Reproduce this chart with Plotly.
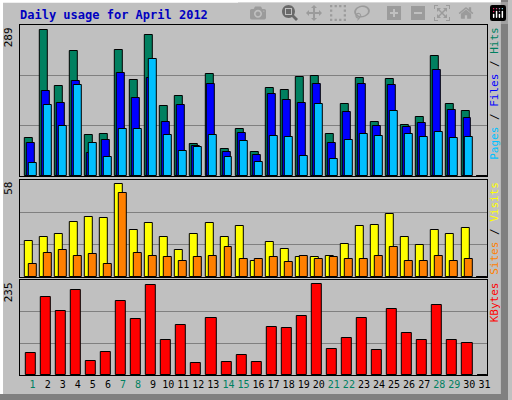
import plotly.graph_objects as go

days = list(range(1, 32))
hits = [73, 280, 172, 240, 79, 80, 242, 183, 269, 134, 153, 61, 196, 52, 90, 46,
        168, 164, 189, 191, 80, 138, 187, 103, 185, 98, 113, 229, 138, 124, 0]
files = [63, 163, 139, 181, 44, 69, 198, 149, 187, 103, 136, 58, 176, 46, 82, 41,
         157, 145, 139, 177, 63, 122, 176, 96, 174, 94, 101, 202, 126, 111, 0]
pages = [25, 136, 96, 174, 63, 37, 90, 90, 223, 79, 48, 56, 79, 37, 67, 27,
         77, 75, 39, 138, 33, 69, 80, 77, 124, 80, 75, 84, 73, 75, 0]
visits = [21.3, 23.9, 26, 32.7, 35.7, 35.1, 55.6, 27.9, 32.1, 23.9, 15.9, 26, 32.1, 23.9, 30.3, 9.8,
          20.7, 16.5, 12.2, 12.2, 12.8, 19.5, 30.3, 30.9, 37.5, 23.9, 18.9, 27.9, 26, 29.1, 0]
sites = [8, 14.6, 15.9, 12.8, 14, 8, 50.2, 14.6, 12.8, 12.2, 9.8, 12.2, 12.8, 17.7, 11, 11,
         12.2, 9.2, 12.8, 11, 12.2, 11, 11, 12.8, 17.7, 9.8, 9.8, 12.8, 9.8, 11, 0]
kbytes = [54, 193, 158, 210, 35, 57, 183, 139, 223, 87, 124, 30, 141, 32, 49, 32,
          119, 116, 146, 225, 64, 92, 141, 62, 163, 104, 87, 173, 87, 79, 0]
weekend = [1, 7, 8, 14, 15, 21, 22, 28, 29]
max_hits, max_visits, max_kb = 289, 58, 235

GREEN, BLUE, CYAN = "#008060", "#0000ff", "#00c0ff"
YEL, ORA, RED = "#ffff00", "#ff8000", "#ff0000"
BG = "#c0c0c0"
FONT = "DejaVu Sans Mono"

def bar(y, color, off, w, xa, ya):
    return go.Bar(x=days, y=y, offset=off, width=w, marker=dict(color=color, line=dict(color="black", width=1)),
                  xaxis=xa, yaxis=ya, showlegend=False, hoverinfo="skip")

fig = go.Figure()
fig.add_trace(bar(hits, GREEN, -0.53, 0.53, "x", "y"))
fig.add_trace(bar(files, BLUE, -0.4, 0.53, "x", "y"))
fig.add_trace(bar(pages, CYAN, -0.27, 0.53, "x", "y"))
fig.add_trace(bar(visits, YEL, -0.53, 0.53, "x2", "y2"))
fig.add_trace(bar(sites, ORA, -0.27, 0.53, "x2", "y2"))
fig.add_trace(bar(kbytes, RED, -0.47, 0.67, "x3", "y3"))

ticktext = [f'<span style="color:{GREEN if d in weekend else "black"}">{d}</span>' for d in days]
xcommon = dict(range=[0.15, 31.15], domain=[0.039, 0.958], showline=True, linecolor="black",
               mirror=True, showgrid=False, zeroline=False, fixedrange=True)
def ycommon(mx, dom):
    return dict(range=[0, mx], domain=dom, tickvals=[mx / 3, 2 * mx / 3], showticklabels=False,
                gridcolor="#808080", gridwidth=1, showline=True, linecolor="black", mirror=True,
                zeroline=False, ticks="")

fig.update_layout(
    width=512, height=400, margin=dict(l=0, r=0, t=0, b=0),
    paper_bgcolor=BG, plot_bgcolor=BG, barmode="overlay", bargap=0,
    font=dict(family=FONT, size=11, color="black"),
    xaxis=dict(**xcommon, showticklabels=False, anchor="y"),
    xaxis2=dict(**xcommon, showticklabels=False, anchor="y2"),
    xaxis3=dict(**xcommon, anchor="y3", tickvals=days, ticktext=ticktext, ticks="", tickangle=0,
                tickfont=dict(family=FONT, size=10)),
    yaxis=ycommon(max_hits, [0.56, 0.9375]),
    yaxis2=ycommon(max_visits, [0.3075, 0.55]),
    yaxis3=ycommon(max_kb, [0.0625, 0.3]),
)

ann = [
    dict(text="<b>Daily usage for April 2012</b>", x=0.035, y=0.985, xanchor="left", yanchor="top",
         font=dict(color="#0000c0", size=12, family=FONT)),
    dict(text=str(max_hits), x=0.033, y=0.9375, xanchor="right", yanchor="top", textangle=-90),
    dict(text=str(max_visits), x=0.033, y=0.55, xanchor="right", yanchor="top", textangle=-90),
    dict(text=str(max_kb), x=0.033, y=0.3, xanchor="right", yanchor="top", textangle=-90),
    dict(text=f'<span style="color:{CYAN}">Pages</span> / <span style="color:{BLUE}">Files</span> / <span style="color:{GREEN}">Hits</span>',
         x=0.973, y=0.9375, xanchor="center", yanchor="top", textangle=-90),
    dict(text=f'<span style="color:{ORA}">Sites</span> / <span style="color:{YEL}">Visits</span>',
         x=0.973, y=0.55, xanchor="center", yanchor="top", textangle=-90),
    dict(text=f'<span style="color:{RED}">KBytes</span>',
         x=0.973, y=0.3, xanchor="center", yanchor="top", textangle=-90),
]
for a in ann:
    a.update(xref="paper", yref="paper", showarrow=False)
    a.setdefault("font", dict(family=FONT, size=11))
fig.update_layout(annotations=ann)

fig.update_layout(shapes=[
    dict(type="line", xref="paper", yref="paper", x0=0.003, y0=0, x1=0.003, y1=1, line=dict(color="white", width=3), layer="below"),
    dict(type="line", xref="paper", yref="paper", x0=0, y0=0.997, x1=1, y1=0.997, line=dict(color="white", width=3), layer="below"),
    dict(type="rect", xref="paper", yref="paper", x0=0.986, y0=0, x1=1, y1=1, fillcolor="#808080", line=dict(width=0), layer="below"),
    dict(type="rect", xref="paper", yref="paper", x0=0, y0=0, x1=1, y1=0.015, fillcolor="#808080", line=dict(width=0), layer="below"),
])

fig.write_html("out.html")
with open("out.html", encoding="utf-8") as f:
    html = f.read()
html = html.replace("<head>", "<head><style>html,body{margin:0;padding:0;overflow:hidden;}</style>", 1)
with open("out.html", "w", encoding="utf-8") as f:
    f.write(html)
